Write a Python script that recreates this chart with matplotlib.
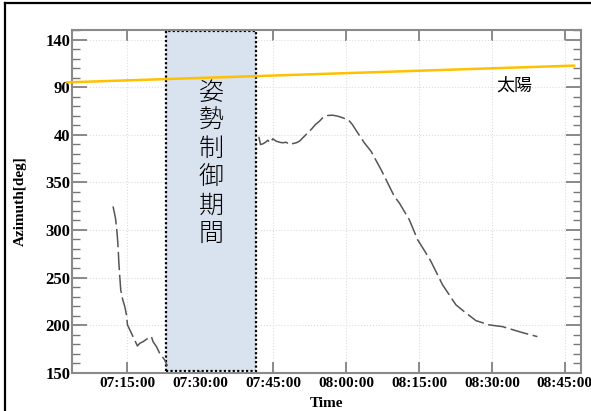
import datetime as dt

import matplotlib
matplotlib.use("Agg")
import matplotlib.dates as mdates
import matplotlib.pyplot as plt
from matplotlib.lines import Line2D
from matplotlib.patches import Rectangle

# 方位角（360 を超える値は 0..140 に折り返して表示）
TIMES_A = ["07:12:02", "07:12:32", "07:12:52", "07:13:04", "07:13:13", "07:13:22",
           "07:13:37", "07:14:02", "07:14:27", "07:14:48", "07:15:00", "07:16:38",
           "07:17:03", "07:17:32", "07:18:13", "07:19:14", "07:19:56", "07:20:16",
           "07:20:58", "07:21:38", "07:22:40", "07:23:13"]
AZ_A = [324.7, 312.5, 296.7, 282.6, 266.8, 254.6, 237.0, 226.5, 219.5, 210.7, 200.2,
        182.6, 178.1, 180.9, 182.6, 186.2, 187.9, 182.6, 177.4, 170.4, 163.4, 157.1]

TIMES_B = ["07:42:02", "07:42:23", "07:42:52", "07:43:25", "07:43:53", "07:44:23",
           "07:44:55", "07:45:37", "07:46:18", "07:46:58", "07:47:40", "07:48:21",
           "07:49:02", "07:49:44", "07:50:24", "07:51:05", "07:52:07", "07:52:49",
           "07:53:41", "07:54:31", "07:55:11", "07:56:13", "07:57:14", "07:58:16",
           "07:59:18", "08:00:32", "08:01:17", "08:02:23", "08:03:45", "08:05:08",
           "08:07:11", "08:08:13", "08:09:55", "08:10:57", "08:13:00", "08:14:43",
           "08:16:26", "08:17:28", "08:19:51", "08:20:33", "08:22:36", "08:24:18",
           "08:26:43", "08:29:27", "08:32:11", "08:36:17", "08:39:22"]
AZ_B = [397.8, 389.7, 390.4, 392.1, 394.2, 391.5, 395.7, 393.2, 392.1, 391.5, 392.1,
        389.7, 390.7, 391.5, 393.2, 396.7, 402.0, 405.5, 410.7, 414.2, 417.8, 420.2,
        420.5, 419.5, 417.8, 415.3, 410.7, 402.0, 391.5, 382.6, 363.4, 352.8, 335.3,
        328.3, 310.7, 289.7, 275.7, 266.8, 242.3, 237.0, 221.3, 214.2, 204.7, 200.2,
        198.4, 192.1, 187.9]

SUN_TIMES = ["07:02:32", "08:46:55"]
SUN_AZ = [455.0, 472.6]

CONTROL_PERIOD = ["07:23:01", "07:41:30"]

Y_TICKS = [150, 200, 250, 300, 350, 400, 450, 500]
Y_TICK_LABELS = ["150", "200", "250", "300", "350", "40", "90", "140"]
X_TICKS = ["07:15:00", "07:30:00", "07:45:00", "08:00:00", "08:15:00", "08:30:00", "08:45:00"]


def to_time(s):
    return dt.datetime.strptime("2020-01-01 " + s, "%Y-%m-%d %H:%M:%S")


def times(lst):
    return [to_time(s) for s in lst]


fig = plt.figure(figsize=(5.91, 4.11), dpi=100)
ax = fig.add_axes([0.1218, 0.0932, 0.8612, 0.8338])

serif = "Liberation Serif"
jp = ["Noto Sans CJK JP", "DejaVu Sans"]

# 姿勢制御期間
t0, t1 = [mdates.date2num(t) for t in times(CONTROL_PERIOD)]
ax.add_patch(Rectangle((t0, 152), t1 - t0, 357, facecolor="#d9e2ef",
                       edgecolor="black", linestyle=(0, (1, 1)), linewidth=1.6, zorder=2))
ax.text((t0 + t1) / 2, 458, "\n".join("姿勢制御期間"), ha="center", va="top",
        fontsize=18, family=jp, fontweight="light", linespacing=1.08, zorder=3)

# 方位角データ
for tt, az in ((TIMES_A, AZ_A), (TIMES_B, AZ_B)):
    ax.plot(times(tt), az, color="#555555", linewidth=1.1, dashes=(12, 3), zorder=4)

# 太陽
ax.plot(times(SUN_TIMES), SUN_AZ, color="#ffc000", linewidth=1.8, clip_on=False, zorder=5)
ax.text(to_time("08:34:35"), 452, "太陽", family=jp, fontsize=13, ha="center",
        va="center", zorder=5)

ax.set_xlim(to_time("07:03:35"), to_time("08:48:20"))
ax.set_ylim(150, 510)

ax.set_yticks(Y_TICKS)
ax.set_yticklabels(Y_TICK_LABELS)
ax.set_yticks(range(150, 511, 10), minor=True)
ax.set_xticks(times(X_TICKS))
ax.xaxis.set_major_formatter(mdates.DateFormatter("%H:%M:%S"))

for lab in ax.get_xticklabels():
    lab.set_family(serif)
    lab.set_fontweight("bold")
    lab.set_fontsize(11)
for lab in ax.get_yticklabels():
    lab.set_family(serif)
    lab.set_fontweight("bold")
    lab.set_fontsize(12)

ax.tick_params(axis="y", which="major", direction="in", length=11, width=1.2,
               color="#777777", left=True, right=True, pad=1)
ax.tick_params(axis="y", which="minor", direction="in", length=6, width=1.0,
               color="#777777", left=True, right=True)
ax.tick_params(axis="x", which="major", direction="in", length=8, width=1.2,
               color="#777777", top=True, bottom=True, pad=3)

for sp in ax.spines.values():
    sp.set_color("#8a8a8a")
    sp.set_linewidth(1.5)

ax.grid(True, color="#dddddd", linestyle=":", linewidth=0.8, zorder=0)
ax.set_axisbelow(True)

ax.set_ylabel("Azimuth[deg]", family=serif, fontweight="bold", fontsize=11, labelpad=2)
ax.yaxis.set_label_coords(-0.088, 0.5)
ax.set_xlabel("Time", family=serif, fontweight="bold", fontsize=11, va="top")
ax.xaxis.set_label_coords(0.5, -0.072)

# 外枠
fig.add_artist(Line2D([5 / 591, 1], [1 - 3 / 411, 1 - 3 / 411], color="black", linewidth=1.6,
                      transform=fig.transFigure))
fig.add_artist(Line2D([5 / 591, 5 / 591], [0, 1 - 3 / 411], color="black", linewidth=1.6,
                      transform=fig.transFigure))

fig.savefig("out.png", dpi=100)
